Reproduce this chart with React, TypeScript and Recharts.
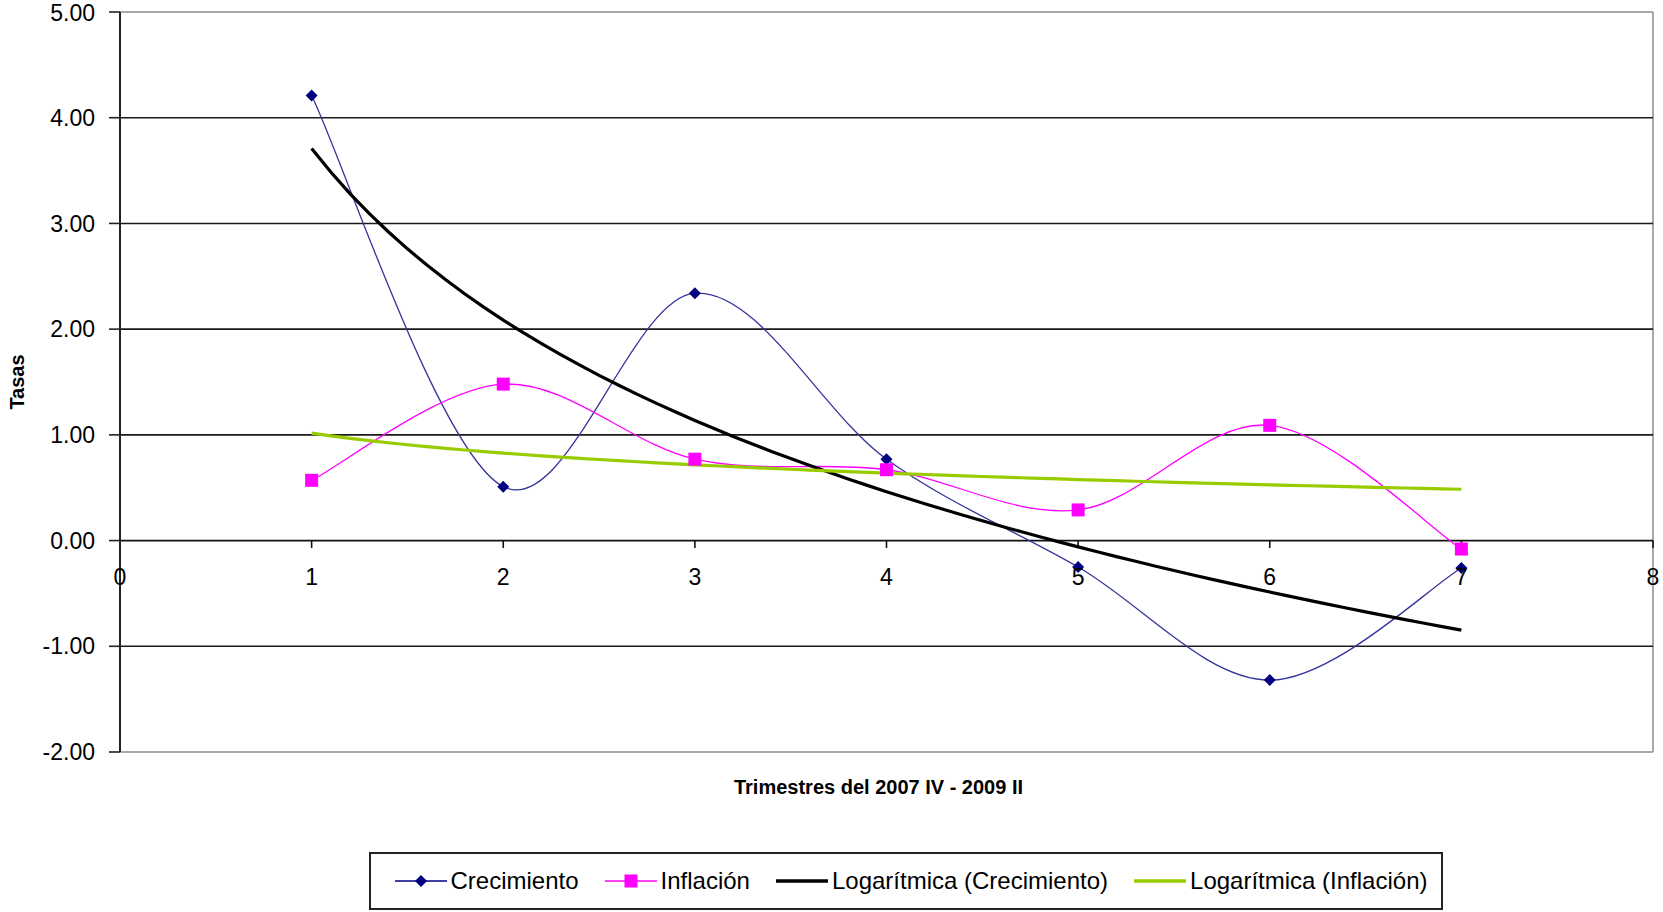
import React from "react";
import { LineChart, Line, XAxis, YAxis, ReferenceLine } from "recharts";

// quarterly rates, 2007 IV – 2009 II
const QUARTERS = [1, 2, 3, 4, 5, 6, 7];
const CRECIMIENTO = [4.21, 0.51, 2.34, 0.77, -0.25, -1.32, -0.26];
const INFLACION = [0.57, 1.48, 0.77, 0.67, 0.29, 1.09, -0.08];

const Y_TICKS = [-2, -1, 0, 1, 2, 3, 4, 5];
const X_TICKS = [0, 1, 2, 3, 4, 5, 6, 7, 8];
const GRID_VALUES = [4, 3, 2, 1, -1];

const BLUE = "#000080";
const PINK = "#ff00ff";
const GREEN = "#99cc00";
const FONT = "'Liberation Sans', Arial, sans-serif";

// least squares fit of y = a + b·ln(x)
const logFit = (xs: number[], ys: number[]) => {
  const lx = xs.map((x) => Math.log(x));
  const n = xs.length;
  const mx = lx.reduce((s, v) => s + v, 0) / n;
  const my = ys.reduce((s, v) => s + v, 0) / n;
  let sxy = 0;
  let sxx = 0;
  lx.forEach((v, i) => {
    sxy += (v - mx) * (ys[i] - my);
    sxx += (v - mx) * (v - mx);
  });
  const b = sxy / sxx;
  const a = my - b * mx;
  return (x: number) => a + b * Math.log(x);
};

const fitCrec = logFit(QUARTERS, CRECIMIENTO);
const fitInfl = logFit(QUARTERS, INFLACION);

const rows = QUARTERS.map((q, i) => ({ q, crecimiento: CRECIMIENTO[i], inflacion: INFLACION[i] }));

const trendRows = Array.from({ length: 61 }, (_, i) => {
  const q = 1 + i * 0.1;
  return { q, logCrec: fitCrec(q), logInfl: fitInfl(q) };
});

// smoothed line like a spreadsheet "smoothed line" series (Catmull-Rom through the points)
const smoothCurve = (context: any) => {
  let pts: number[][] = [];
  return {
    areaStart() {},
    areaEnd() {},
    lineStart() {
      pts = [];
    },
    point(x: number, y: number) {
      pts.push([+x, +y]);
    },
    lineEnd() {
      if (!pts.length) return;
      context.moveTo(pts[0][0], pts[0][1]);
      for (let i = 0; i < pts.length - 1; i++) {
        const p0 = pts[Math.max(i - 1, 0)];
        const p1 = pts[i];
        const p2 = pts[i + 1];
        const p3 = pts[Math.min(i + 2, pts.length - 1)];
        context.bezierCurveTo(
          p1[0] + (p2[0] - p0[0]) / 6,
          p1[1] + (p2[1] - p0[1]) / 6,
          p2[0] - (p3[0] - p1[0]) / 6,
          p2[1] - (p3[1] - p1[1]) / 6,
          p2[0],
          p2[1]
        );
      }
    },
  };
};

const Diamond = ({ cx, cy, fill }: any) => (
  <polygon points={ `${cx},${cy - 6} ${cx + 6},${cy} ${cx},${cy + 6} ${cx - 6},${cy}` } fill={ fill }/>
);

const Square = ({ cx, cy, fill }: any) => (
  <rect x={ cx - 6.5 } y={ cy - 6.5 } width={ 13 } height={ 13 } fill={ fill }/>
);

const legendItems = [
  { name: "Crecimiento", color: BLUE, width: 1.5, marker: "diamond" },
  { name: "Inflación", color: PINK, width: 1.5, marker: "square" },
  { name: "Logarítmica (Crecimiento)", color: "#000", width: 3.5, marker: null },
  { name: "Logarítmica (Inflación)", color: GREEN, width: 3.5, marker: null },
];

const ChartLegend = () => (
  <div
    style={ {
      position: "absolute",
      left: 369,
      top: 852,
      width: 1074,
      height: 58,
      boxSizing: "border-box",
      border: "2px solid #222",
      display: "flex",
      alignItems: "center",
      justifyContent: "center",
      gap: 26,
      paddingLeft: 10,
      fontSize: 24,
      background: "#fff",
    } }
  >
    { legendItems.map((it) => (
      <div key={ it.name } style={ { display: "flex", alignItems: "center" } }>
        <svg width={ 52 } height={ 20 } style={ { marginRight: 4 } }>
          <line x1={ 0 } y1={ 10 } x2={ 52 } y2={ 10 } stroke={ it.color } strokeWidth={ it.width }/>
          { it.marker === "diamond" && <Diamond cx={ 26 } cy={ 10 } fill={ it.color }/> }
          { it.marker === "square" && <Square cx={ 26 } cy={ 10 } fill={ it.color }/> }
        </svg>
        <span>{ it.name }</span>
      </div>
    )) }
  </div>
);

export default function App() {
  return (
    <div style={ { position: "absolute", left: 0, top: 0, width: 1663, height: 912, fontFamily: FONT, background: "#fff" } }>
      <LineChart width={ 1663 } height={ 912 } margin={ { top: 12, right: 10, left: 0, bottom: 100 } }>
        <XAxis
          dataKey="q"
          type="number"
          domain={ [0, 8] }
          ticks={ X_TICKS }
          axisLine={ false }
          tickLine={ false }
          tick={ false }
          height={ 60 }
          allowDataOverflow
          label={ {
            value: "Trimestres del 2007 IV - 2009 II",
            position: "insideTop",
            offset: 28,
            dx: -8,
            style: { fontWeight: "bold", fontSize: 20, fill: "#000" },
          } }
        />
        <YAxis
          type="number"
          domain={ [-2, 5] }
          ticks={ Y_TICKS }
          tickFormatter={ (v: number) => v.toFixed(2) }
          width={ 120 }
          tickSize={ 11 }
          tickMargin={ 14 }
          axisLine={ { stroke: "#222", strokeWidth: 2 } }
          tickLine={ { stroke: "#222", strokeWidth: 1.6 } }
          tick={ { fill: "#000", fontSize: 23 } }
          allowDataOverflow
          label={ {
            value: "Tasas",
            angle: -90,
            position: "insideLeft",
            offset: 17,
            style: { fontWeight: "bold", fontSize: 20, fill: "#000", textAnchor: "middle" },
          } }
        />

        { /* plot frame */ }
        <ReferenceLine y={ 5 } stroke="#8c8c8c" strokeWidth={ 1.5 }/>
        <ReferenceLine y={ -2 } stroke="#8c8c8c" strokeWidth={ 1.5 }/>
        <ReferenceLine x={ 8 } stroke="#8c8c8c" strokeWidth={ 1.5 }/>
        { GRID_VALUES.map((v) => (
          <ReferenceLine key={ `g${v}` } y={ v } stroke="#1a1a1a" strokeWidth={ 1.6 }/>
        )) }

        { /* horizontal axis crossing at zero */ }
        <ReferenceLine y={ 0 } stroke="#111" strokeWidth={ 1.8 }/>
        { X_TICKS.map((t) => (
          <ReferenceLine
            key={ `t${t}` }
            segment={ [{ x: t, y: 0 }, { x: t, y: -0.07 }] }
            stroke="#111"
            strokeWidth={ 1.6 }
            label={ { value: String(t), position: "bottom", offset: 21, fill: "#000", fontSize: 23 } }
          />
        )) }

        <Line
          data={ rows }
          dataKey="crecimiento"
          name="Crecimiento"
          type={ smoothCurve as any }
          stroke="#34349c"
          strokeWidth={ 1.3 }
          dot={ (p: any) => <Diamond key={ `d${p.index}` } cx={ p.cx } cy={ p.cy } fill={ BLUE }/> }
          activeDot={ false }
          isAnimationActive={ false }
        />
        <Line
          data={ rows }
          dataKey="inflacion"
          name="Inflación"
          type={ smoothCurve as any }
          stroke={ PINK }
          strokeWidth={ 1.3 }
          dot={ (p: any) => <Square key={ `s${p.index}` } cx={ p.cx } cy={ p.cy } fill={ PINK }/> }
          activeDot={ false }
          isAnimationActive={ false }
        />
        <Line
          data={ trendRows }
          dataKey="logCrec"
          name="Logarítmica (Crecimiento)"
          type="linear"
          stroke="#000"
          strokeWidth={ 3.2 }
          dot={ false }
          activeDot={ false }
          isAnimationActive={ false }
        />
        <Line
          data={ trendRows }
          dataKey="logInfl"
          name="Logarítmica (Inflación)"
          type="linear"
          stroke={ GREEN }
          strokeWidth={ 3.2 }
          dot={ false }
          activeDot={ false }
          isAnimationActive={ false }
        />
      </LineChart>
      <ChartLegend/>
    </div>
  );
}
